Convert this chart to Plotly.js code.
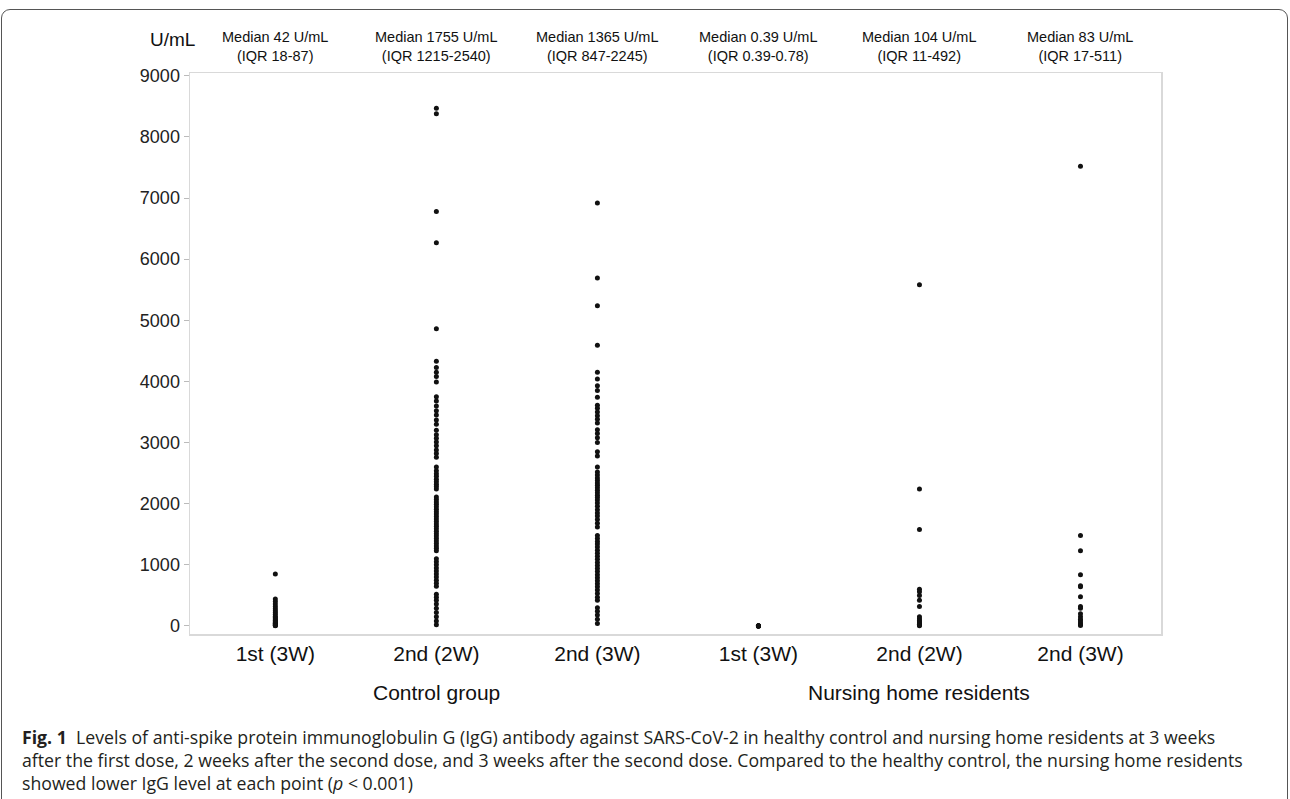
<!DOCTYPE html>
<html>
<head>
<meta charset="utf-8">
<script src="https://cdn.plot.ly/plotly-3.0.1.min.js"></script>
<style>
html,body{margin:0;padding:0;background:#fff;}
#wrap{position:relative;width:1290px;height:799px;overflow:hidden;}
#chart{position:absolute;left:0;top:0;width:1290px;height:799px;}
#frame{position:absolute;left:1px;top:9px;width:1287px;height:800px;border:1.5px solid #555;border-radius:9px;pointer-events:none;box-sizing:border-box;}
</style>
</head>
<body>
<div id="wrap"><div id="chart"></div><div id="frame"></div></div>
<script>
// ---- data (U/mL) ----
const categories = ["1st (3W)", "2nd (2W)", "2nd (3W)", "1st (3W)", "2nd (2W)", "2nd (3W)"];
const groupLabels = ["Control group", "Nursing home residents"];
const medianLabels = [
  "Median 42 U/mL<br>(IQR 18-87)",
  "Median 1755 U/mL<br>(IQR 1215-2540)",
  "Median 1365 U/mL<br>(IQR 847-2245)",
  "Median 0.39 U/mL<br>(IQR 0.39-0.78)",
  "Median 104 U/mL<br>(IQR 11-492)",
  "Median 83 U/mL<br>(IQR 17-511)"
];
const control1st3W = [850, 440, 400, 360, 320, 280, 250, 220, 190, 160, 140, 120, 100, 85, 70, 55, 45, 35, 25, 18, 10, 5];
const control2nd2W = [8470, 8380, 6780, 6270, 4860, 4330, 4230, 4150, 4080, 3990,
  3750, 3680, 3600, 3520, 3450, 3370, 3300, 3200, 3130, 3070, 3010, 2950, 2880, 2820, 2760,
  2600, 2540, 2490, 2450, 2400, 2360, 2320, 2280, 2240, 2110, 2070, 2030, 1990, 1950, 1910,
  1870, 1830, 1790, 1750, 1710, 1670, 1630, 1590, 1550, 1510, 1470, 1430, 1390, 1350, 1310,
  1270, 1230, 1100, 1050, 1000, 950, 900, 850, 800, 750, 700, 650, 520, 470, 420, 360, 290,
  220, 150, 80, 20];
const control2nd3W = [6920, 5690, 5240, 4590, 4150, 4040, 3930, 3850, 3740, 3610, 3560, 3500,
  3440, 3380, 3320, 3210, 3150, 3080, 3000, 2850, 2780, 2600, 2520, 2470, 2420, 2380, 2340,
  2300, 2260, 2220, 2180, 2140, 2100, 2060, 2010, 1960, 1900, 1850, 1800, 1740, 1680, 1620,
  1480, 1430, 1380, 1340, 1290, 1240, 1190, 1140, 1090, 1040, 990, 940, 890, 840, 790, 740,
  690, 640, 590, 530, 470, 420, 300, 240, 180, 110, 40];
const nursing1st3W = [0.39, 0.39, 0.39, 0.78, 0.78, 1.2, 2.5, 5];
const nursing2nd2W = [5580, 2240, 1580, 600, 560, 500, 420, 320, 150, 120, 90, 70, 50, 30, 15, 5];
const nursing2nd3W = [7520, 1480, 1230, 840, 660, 640, 480, 320, 290, 200, 150, 110, 80, 50, 25, 10];

const series = [control1st3W, control2nd2W, control2nd3W, nursing1st3W, nursing2nd2W, nursing2nd3W];

const traces = series.map((vals, i) => ({
  type: "scatter",
  mode: "markers",
  x: vals.map(() => i),
  y: vals,
  marker: {color: "#111", size: 5},
  hoverinfo: "y",
  showlegend: false
}));

const FONT = "Liberation Sans, Arial, sans-serif";
const PLOT_TOP = 73, PLOT_BOTTOM = 634, PLOT_H = 561;
const py = p => (PLOT_BOTTOM - p) / PLOT_H; // pixel row -> paper y
const annotations = [];
// median labels above plot
medianLabels.forEach((t, i) => annotations.push({
  x: i, xref: "x", y: py(46), yref: "paper", yanchor: "middle",
  text: t, showarrow: false, align: "center",
  font: {family: FONT, size: 14.5, color: "#111"}
}));
// unit label
annotations.push({x: 0.007, xref: "paper", xanchor: "right", y: py(40), yref: "paper", yanchor: "middle",
  text: "U/mL", showarrow: false, font: {family: FONT, size: 19, color: "#111"}});
// group labels
groupLabels.forEach((t, i) => annotations.push({
  x: 1 + i * 3, xref: "x", y: py(692), yref: "paper", yanchor: "middle",
  text: t, showarrow: false, font: {family: FONT, size: 21, color: "#111"}
}));
// caption (one annotation, three lines)
const captionText =
  "<b>Fig. 1</b>  Levels of anti-spike protein immunoglobulin G (IgG) antibody against SARS-CoV-2 in healthy control and nursing home residents at 3 weeks<br>" +
  "after the first dose, 2 weeks after the second dose, and 3 weeks after the second dose. Compared to the healthy control, the nursing home residents<br>" +
  "showed lower IgG level at each point (<i>p</i> &lt; 0.001)";
annotations.push({
  x: 0, xref: "paper", xanchor: "left", xshift: 20 - 190,
  y: py(760), yref: "paper", yanchor: "middle",
  text: captionText, showarrow: false, align: "left",
  font: {family: "Open Sans, Noto Sans, sans-serif", size: 17.7, color: "#231f20"}
});

const layout = {
  width: 1290, height: 799,
  margin: {l: 190, r: 129, t: PLOT_TOP, b: 799 - PLOT_BOTTOM},
  paper_bgcolor: "#fff", plot_bgcolor: "#fff",
  font: {family: FONT, color: "#111"},
  xaxis: {
    range: [-0.53, 5.5],
    tickvals: [0, 1, 2, 3, 4, 5], ticktext: categories,
    showgrid: false, zeroline: false,
    showline: true, mirror: true, linecolor: "#d9d9d9", linewidth: 1.5,
    ticks: "", ticklen: 0,
    tickfont: {family: FONT, size: 21, color: "#111"}
  },
  yaxis: {
    range: [-131, 9045],
    tickvals: [0, 1000, 2000, 3000, 4000, 5000, 6000, 7000, 8000, 9000],
    showgrid: false, zeroline: false,
    showline: true, mirror: true, linecolor: "#d9d9d9", linewidth: 1.5,
    ticks: "outside", ticklen: 5, tickcolor: "#bbb", tickwidth: 1,
    tickfont: {family: FONT, size: 18, color: "#222"}
  },
  annotations: annotations
};

Plotly.newPlot("chart", traces, layout, {displayModeBar: false, staticPlot: true});
</script>
</body>
</html>
